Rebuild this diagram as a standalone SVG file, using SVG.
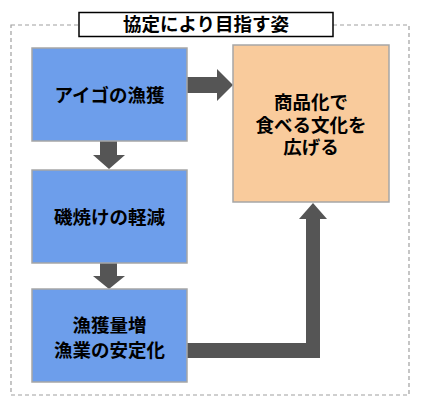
<svg xmlns="http://www.w3.org/2000/svg" width="424" height="409" viewBox="0 0 424 409">
<style>
.t{font-family:"Noto Sans CJK JP","Noto Sans CJK SC",sans-serif;font-weight:bold;font-size:18.5px;text-anchor:middle;fill:#000}
.blue{fill:#6d9eeb;stroke:#a6a6a6;stroke-width:1.5}
.orange{fill:#f9cb9c;stroke:#a6a6a6;stroke-width:1.5}
.arr{fill:#555555}
</style>
<rect x="11" y="25" width="398" height="370" fill="none" stroke="#a0a0a0" stroke-width="1.2" stroke-dasharray="4,3"/>
<g id="title">
<rect x="79" y="12.5" width="254" height="24" fill="#fff" stroke="#000" stroke-width="1.5"/>
<text class="t" x="206" y="31" font-size="19">協定により目指す姿</text>
</g>
<g id="connectors">
<path class="arr" d="M187,77 H217 V69 L233,85 L217,101 V93 H187 Z"/>
<path class="arr" d="M100,141 H117 V155 H125 L109,169 L93,155 H100 Z"/>
<path class="arr" d="M100,263 H117 V276 H125 L109,289 L93,276 H100 Z"/>
<path class="arr" d="M187,343 H306 V219 H299 L313,203 L327,219 H320 V358 H187 Z"/>
</g>
<g id="node1">
<rect class="blue" x="32" y="48" width="155" height="93"/>
<text class="t" x="109.5" y="102">アイゴの漁獲</text>
</g>
<g id="node2">
<rect class="blue" x="32" y="170" width="155" height="93"/>
<text class="t" x="109.5" y="224">磯焼けの軽減</text>
</g>
<g id="node3">
<rect class="blue" x="32" y="289" width="155" height="93"/>
<text class="t" x="109.5" y="332">漁獲量増</text>
<text class="t" x="109.5" y="357">漁業の安定化</text>
</g>
<g id="node4">
<rect class="orange" x="233" y="45" width="156" height="157"/>
<text class="t" x="311" y="109">商品化で</text>
<text class="t" x="311" y="131.5">食べる文化を</text>
<text class="t" x="311" y="154">広げる</text>
</g>
</svg>
